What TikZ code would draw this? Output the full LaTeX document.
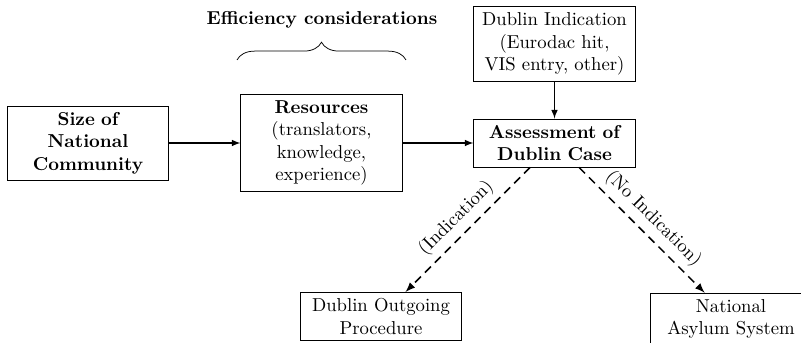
\documentclass[tikz,border=0pt]{standalone}
\usetikzlibrary{arrows.meta, decorations.pathreplacing}

\begin{document}
\begin{tikzpicture}[>=latex, x=0.0188cm, y=0.0188cm,
    box/.style={draw, text width=2.8cm, align=center},
    flow/.style={->, semithick},
    branch/.style={->, thick, dash pattern=on 4.5pt off 3pt}]
    \clip (0,0) rectangle (801,343);
    % main row
    \node[box, font=\bfseries] (size) at (88,200) {Size of\\National\\Community};
    \node[box] (resources) at (321.5,200) {\textbf{Resources}\\(translators,\\knowledge,\\experience)};
    \node[box, font=\bfseries] (assessment) at (554.5,200) {Assessment of\\Dublin Case};
    \node[box] (indication) at (554.5,299) {Dublin Indication\\(Eurodac hit,\\VIS entry, other)};
    % outcomes
    \node[box] (outgoing) at (381,26.5) {Dublin Outgoing\\Procedure};
    \node[box] (national) at (731,24) {National\\Asylum System};
    % efficiency brace
    \coordinate (braceL) at (237,283);
    \coordinate (braceR) at (406,283);
    \draw[decorate, decoration={brace, amplitude=9.5pt}] (braceL) -- (braceR);
    \node[font=\bfseries] (efficiency) at (322,323) {Efficiency considerations};
    \path[flow] (size) edge (resources);
    \path[flow] (resources) edge (assessment);
    \path[flow] (indication) edge (assessment);
    \path[branch] (assessment) edge node[sloped, above] {(Indication)} (outgoing);
    \path[branch] (assessment) edge node[sloped, above] {(No Indication)} (national);
\end{tikzpicture}
\end{document}
